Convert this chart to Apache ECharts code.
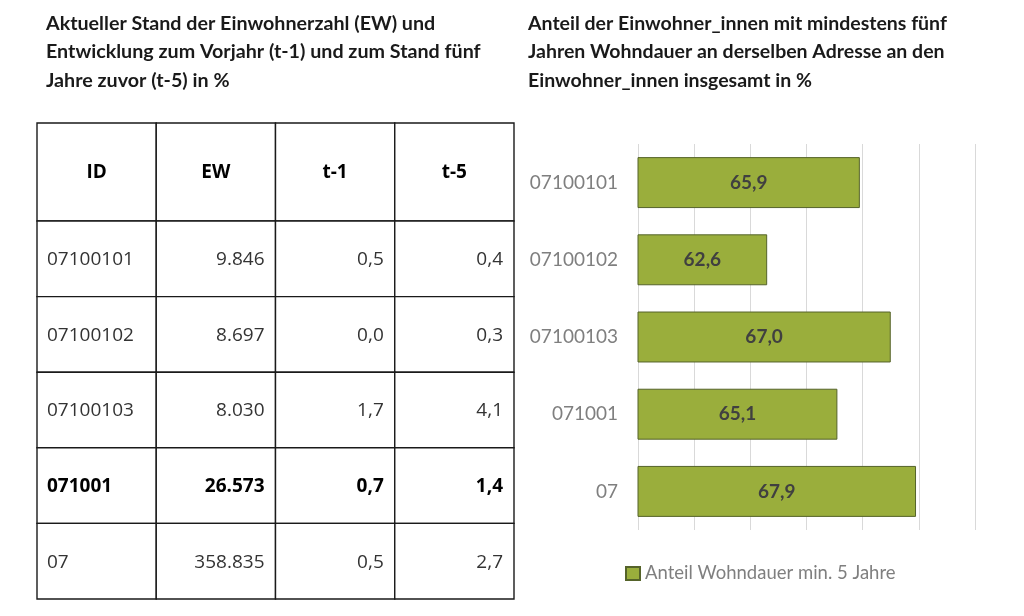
<!DOCTYPE html>
<html>
<head>
<meta charset="utf-8">
<script src="https://cdn.jsdelivr.net/npm/echarts@6/dist/echarts.min.js"></script>
<style>
html,body{margin:0;padding:0;background:#fff;}
#c{width:1024px;height:616px;}
</style>
</head>
<body>
<div id="c"></div>
<script>
// ---- data ----
const tableHeaders = ['ID', 'EW', 't-1', 't-5'];
const ids = ['07100101', '07100102', '07100103', '071001', '07'];
const ew = [9846, 8697, 8030, 26573, 358835];
const t1 = [0.5, 0.0, 1.7, 0.7, 0.5];
const t5 = [0.4, 0.3, 4.1, 1.4, 2.7];
const boldIds = ['071001'];
const barCategories = ['07100101', '07100102', '07100103', '071001', '07'];
const wohndauer = [65.9, 62.6, 67.0, 65.1, 67.9];
const seriesName = 'Anteil Wohndauer min. 5 Jahre';
const titleLeft = 'Aktueller Stand der Einwohnerzahl (EW) und\nEntwicklung zum Vorjahr (t-1) und zum Stand fünf\nJahre zuvor (t-5) in %';
const titleRight = 'Anteil der Einwohner_innen mit mindestens fünf\nJahren Wohndauer an derselben Adresse an den\nEinwohner_innen insgesamt in %';

const fmtInt = v => v.toLocaleString('de-DE');
const fmt1 = v => v.toFixed(1).replace('.', ',');

// build cells
const headerCells = tableHeaders.map((h, i) => ({ value: [i, 0], text: h, bold: true, header: true }));
const bodyCells = [];
ids.forEach((id, r) => {
  const bold = boldIds.indexOf(id) >= 0;
  [id, fmtInt(ew[r]), fmt1(t1[r]), fmt1(t5[r])].forEach((t, c) => {
    bodyCells.push({ value: [c, r], text: t, bold: bold, header: false });
  });
});

const TABLE_FONT = '"Open Sans", "Noto Sans", sans-serif';
const TITLE_FONT = 'Lato, "Open Sans", sans-serif';

function makeRender(cells) {
  return function (params, api) {
    const cell = cells[params.dataIndex];
    const col = api.value(0), row = api.value(1);
    const c = api.coord([col, row]);
    const s = api.size([1, 1]);
    const x0 = c[0] - s[0] / 2, y0 = c[1] - s[1] / 2;
    let tx, align;
    if (cell.header) { tx = c[0]; align = 'center'; }
    else if (col === 0) { tx = x0 + 10; align = 'left'; }
    else { tx = x0 + s[0] - 11; align = 'right'; }
    return {
      type: 'group',
      children: [
        { type: 'rect', shape: { x: x0, y: y0, width: s[0], height: s[1] },
          style: { fill: '#fff', stroke: '#1a1a1a', lineWidth: 1.4 } },
        { type: 'text', x: tx, y: c[1] + 1,
          style: { text: cell.text, textAlign: align, textVerticalAlign: 'middle',
            fontFamily: TABLE_FONT, fontSize: 19,
            fontWeight: cell.bold ? 'bold' : 'normal',
            fill: cell.bold ? '#000' : '#333' } }
      ]
    };
  };
}

const chart = echarts.init(document.getElementById('c'));
chart.setOption({
  animation: false,
  backgroundColor: '#fff',
  title: [
    { text: titleLeft, left: 41, top: 4,
      textStyle: { fontFamily: TITLE_FONT, fontSize: 19.7, fontWeight: 'bold', color: '#1a1a1a', lineHeight: 28.5 } },
    { text: titleRight, left: 523, top: 4,
      textStyle: { fontFamily: TITLE_FONT, fontSize: 19.5, fontWeight: 'bold', color: '#1a1a1a', lineHeight: 28.5 } }
  ],
  legend: {
    data: [seriesName],
    left: 620, top: 559,
    itemWidth: 14, itemHeight: 13, itemGap: 5,
    icon: 'rect',
    textStyle: { color: '#7f7f7f', fontSize: 18.5, fontFamily: TITLE_FONT }
  },
  grid: [
    { left: 37, top: 123, width: 477, height: 98 },
    { left: 37, top: 221, width: 477, height: 378 },
    { left: 638, right: 49, top: 144, bottom: 86 }
  ],
  xAxis: [
    { gridIndex: 0, type: 'category', data: tableHeaders, show: false },
    { gridIndex: 1, type: 'category', data: tableHeaders, show: false },
    { gridIndex: 2, type: 'value', min: 58, max: 70, interval: 2,
      axisLabel: { show: false }, axisLine: { show: false }, axisTick: { show: false },
      splitLine: { lineStyle: { color: '#d9d9d9', width: 1 } } }
  ],
  yAxis: [
    { gridIndex: 0, type: 'category', data: ['header'], show: false, inverse: true },
    { gridIndex: 1, type: 'category', data: ids, show: false, inverse: true },
    { gridIndex: 2, type: 'category', data: barCategories, inverse: true,
      axisLine: { show: false }, axisTick: { show: false },
      axisLabel: { color: '#7f7f7f', fontSize: 19, fontFamily: TITLE_FONT, margin: 20 } }
  ],
  series: [
    { type: 'custom', xAxisIndex: 0, yAxisIndex: 0, renderItem: makeRender(headerCells),
      data: headerCells.map(c => c.value), silent: true },
    { type: 'custom', xAxisIndex: 1, yAxisIndex: 1, renderItem: makeRender(bodyCells),
      data: bodyCells.map(c => c.value), silent: true },
    { type: 'bar', name: seriesName, xAxisIndex: 2, yAxisIndex: 2,
      data: wohndauer, barCategoryGap: '34%',
      itemStyle: { color: '#9aae3c', borderColor: '#55632a', borderWidth: 1 },
      label: { show: true, position: 'inside', formatter: p => fmt1(p.value),
        color: '#404040', fontSize: 19, fontWeight: 'bold', fontFamily: TITLE_FONT } }
  ]
});
</script>
</body>
</html>
